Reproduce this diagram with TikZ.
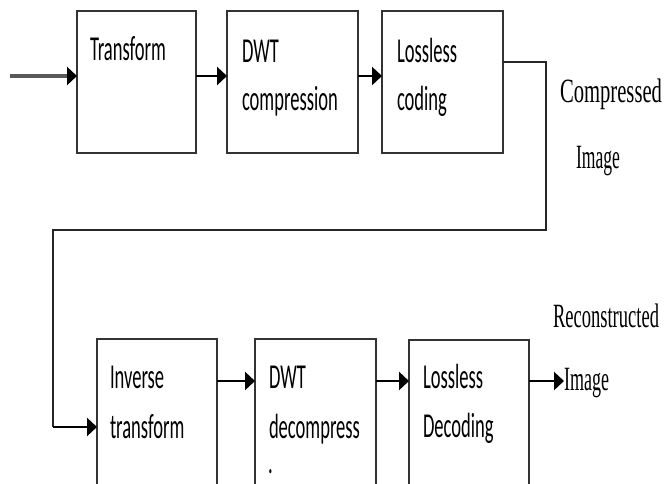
\documentclass[tikz,border=0pt]{standalone}
\usepackage{fontspec}
\usepackage{graphicx}
\setmainfont{Liberation Serif}
\newfontfamily\boxfont{Carlito}
\usetikzlibrary{arrows.meta}
\newcommand\sqb[1]{\scalebox{0.53}[1]{#1}}
\newcommand\sqs[2]{\resizebox{#1pt}{\height}{#2}}
\begin{document}
\begin{tikzpicture}[x=1pt,y=-1pt,
  blk/.style={draw=black!80,line width=1.6pt,inner sep=0pt,outer sep=0pt,anchor=north west},
  btxt/.style={anchor=base west,inner sep=0pt,outer sep=0pt,text=black,font=\boxfont\fontsize{35}{35}\selectfont},
  stxt/.style={anchor=base west,inner sep=0pt,outer sep=0pt,font=\fontsize{34}{34}\selectfont},
  arr/.style={line width=2.6pt,-{Triangle[length=10pt,width=18pt]}},
  inarr/.style={line width=3.6pt,draw=black!65,-{Triangle[length=10pt,width=18pt,color=black]}},
  wire/.style={line width=1.8pt,draw=black!85}]
\clip (0,0) rectangle (664,483);
\fill[white] (0,0) rectangle (664,483);
% top row
\node[blk,minimum width=119pt,minimum height=142pt] (tr) at (77,11) {};
\node[blk,minimum width=131pt,minimum height=142pt] (dc) at (227,11) {};
\node[blk,minimum width=121pt,minimum height=142pt] (lc) at (382,11) {};
\node[btxt] (trt) at (90,60) {\sqb{Transform}};
\node[btxt] (dct1) at (242,62) {\sqb{DWT}};
\node[btxt] (dct2) at (242,110) {\sqb{compression}};
\node[btxt] (lct1) at (397,62) {\sqb{Lossless}};
\node[btxt] (lct2) at (397,110) {\sqb{coding}};
\node[stxt] (cmp1) at (560,102) {\sqs{102}{Compressed}};
\node[stxt] (cmp2) at (576,168) {\sqs{44}{Image}};
% bottom row
\node[blk,minimum width=120pt,minimum height=170pt] (it) at (97,339) {};
\node[blk,minimum width=121pt,minimum height=170pt] (dd) at (255,339) {};
\node[blk,minimum width=120pt,minimum height=170pt] (ld) at (409,340) {};
\node[btxt] (itt1) at (110,388) {\sqb{Inverse}};
\node[btxt] (itt2) at (110,438) {\sqb{transform}};
\node[btxt] (ddt1) at (269,388) {\sqb{DWT}};
\node[btxt] (ddt2) at (269,438) {\sqb{decompress}};
\node[btxt] (ddt3) at (268,473) {\sqb{.}};
\node[btxt] (ldt1) at (423,388) {\sqb{Lossless}};
\node[btxt] (ldt2) at (423,437) {\sqb{Decoding}};
\node[stxt] (rec1) at (553,327) {\sqs{106}{Reconstructed}};
\node[stxt] (rec2) at (564,390) {\sqs{45}{Image}};
% connectors
\coordinate (in) at (10,76);
\draw[inarr] (in) -- (tr.west |- in);
\draw[arr] (tr.east |- in) -- (dc.west |- in);
\draw[arr] (dc.east |- in) -- (lc.west |- in);
\coordinate (c1) at (546,62);
\coordinate (c2) at (546,230);
\coordinate (c3) at (53,230);
\coordinate (c4) at (53,427);
\draw[wire] (lc.east |- c1) -- (c1) -- (c2) -- (c3) -- (c4);
\draw[arr] (c4) -- (it.west |- c4);
\coordinate (r1) at (0,381);
\draw[arr] (it.east |- r1) -- (dd.west |- r1);
\draw[arr] (dd.east |- r1) -- (ld.west |- r1);
\draw[arr] (ld.east |- r1) -- (rec2.west |- r1);
\end{tikzpicture}
\end{document}
